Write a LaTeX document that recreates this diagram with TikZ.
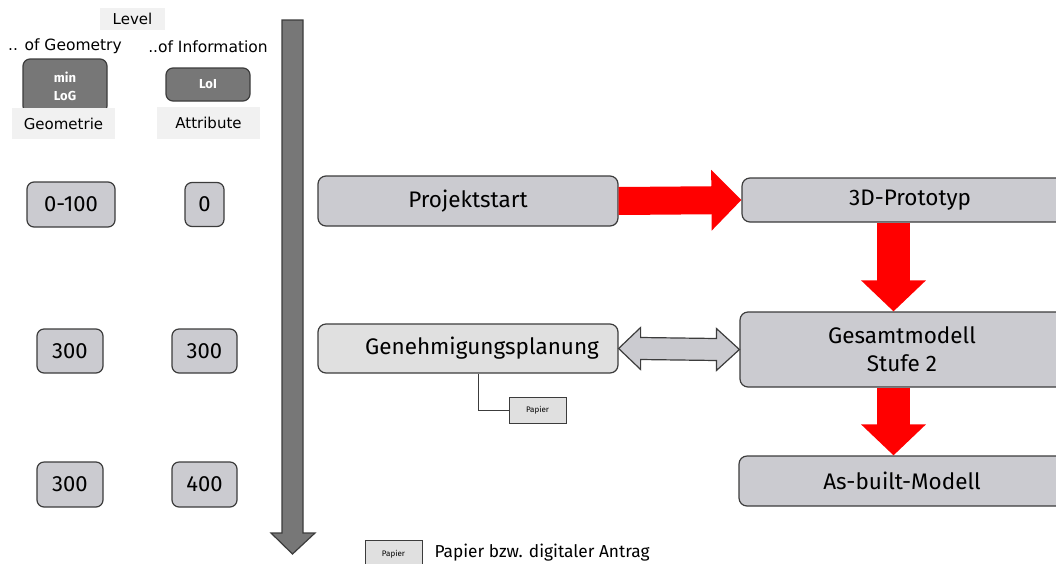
\documentclass[tikz,border=0pt]{standalone}
\usepackage{fontspec}
\setmainfont{Fira Sans}
\newfontfamily\uifont{DejaVu Sans}
\usetikzlibrary{arrows.meta,calc}
\definecolor{boxgray}{HTML}{CBCBD0}
\definecolor{lightbox}{HTML}{E0E0E0}
\definecolor{darkbox}{HTML}{777777}
\definecolor{tagfill}{HTML}{F1F1F1}
\definecolor{edge}{HTML}{3C3C3C}
\definecolor{flowred}{HTML}{FF0000}

\begin{document}
\begin{tikzpicture}[x=1pt,y=-1pt,
  stage/.style={draw=edge, fill=boxgray, rounded corners=8pt, line width=1.2pt,
    inner sep=0pt, font=\fontsize{22.5}{28}\selectfont, align=center},
  level/.style={draw=edge, fill=boxgray, rounded corners=7pt, line width=1.2pt,
    inner sep=0pt, font=\fontsize{22}{24}\selectfont},
  tag/.style={fill=tagfill, inner sep=0pt, font=\uifont\fontsize{15}{17}\selectfont},
  dark/.style={draw=edge, fill=darkbox, rounded corners=7pt, line width=1.2pt,
    inner sep=0pt, text=white, align=center, font=\bfseries\fontsize{13}{18}\selectfont},
  paper/.style={draw=edge, fill=lightbox, line width=1pt, inner sep=0pt,
    font=\fontsize{8}{9}\selectfont},
  flowh/.style={draw=flowred, line width=28pt, -{Triangle[length=30pt, width=59pt]}},
  flowv/.style={draw=flowred, line width=33pt, -{Triangle[length=31pt, width=63pt]}},
]
\clip (0,0) rectangle (1056,563);

% ---- left legend: levels of geometry and information ----
\node[tag, minimum width=65pt, minimum height=22pt] (lvl) at (132.5,19) {Level};
\node[font=\uifont\fontsize{15.5}{17}\selectfont] (log) at (65,46) {.. of Geometry};
\node[font=\uifont\fontsize{15.5}{17}\selectfont] (loi) at (208,47) {..of Information};
\node[dark, minimum width=84pt, minimum height=54pt] (minlog) at (65,86) {min\\LoG};
\node[tag, minimum width=103pt, minimum height=31pt] (geo) at (63.5,123.5) {Geometrie};
\node[dark, minimum width=84pt, minimum height=33pt] (loibox) at (208,84.5) {LoI};
\node[tag, minimum width=103pt, minimum height=32pt] (attr) at (208.5,123) {Attribute};

\node[level, minimum width=88pt, minimum height=45pt] (g1) at (71,204.5) {0-100};
\node[level, minimum width=39pt, minimum height=44pt] (i1) at (204.5,204.5) {0};
\node[level, minimum width=66pt, minimum height=44pt] (g2) at (70,351) {300};
\node[level, minimum width=65pt, minimum height=44pt] (i2) at (204.5,351) {300};
\node[level, minimum width=66pt, minimum height=45pt] (g3) at (70,484.5) {300};
\node[level, minimum width=65pt, minimum height=45pt] (i3) at (204.5,484.5) {400};

% ---- downward level axis ----
\filldraw[fill=darkbox, draw=edge, line width=1.2pt, line join=miter]
  (282,20) -- (303,20) -- (303,533) -- (315,533) -- (292.5,554)
  -- (271,533) -- (282,533) -- cycle;

% ---- process stages ----
\node[stage, minimum width=300pt, minimum height=50pt] (start) at (468,201) {Projektstart};
\node[stage, minimum width=336pt, minimum height=44pt] (proto) at (910,200) {3D-Prototyp};
\node[stage, minimum width=324pt, minimum height=75pt] (ges) at (902,349.5) {Gesamtmodell\\Stufe 2};
\node[stage, minimum width=326pt, minimum height=50pt] (asb) at (902,481) {As-built-Modell};
\node[stage, fill=lightbox, minimum width=300pt, minimum height=49pt,
  label={[font=\fontsize{22.5}{28}\selectfont, xshift=14pt]center:Genehmigungsplanung}]
  (gen) at (468,348.5) {};
\node[paper, minimum width=57pt, minimum height=26pt] (pap) at (537.5,410) {Papier};

% ---- flow between stages ----
\coordinate (axis) at (893.5,0);
\draw[flowh] (start.east) -- (proto.west);
\draw[flowv] (proto.south -| axis) -- (ges.north -| axis);
\draw[flowv] (ges.south -| axis) -- (asb.north -| axis);

% two-way exchange between permit planning and the overall model
\path (gen.east) coordinate (dl) (ges.west) coordinate (dr);
\filldraw[fill=boxgray, draw=edge, line width=1.2pt, line join=miter]
  (dl) -- ($(dl)+(22,-21)$) -- ($(dl)+(22,-11)$) -- ($(dr)+(-23,-11)$)
  -- ($(dr)+(-23,-21)$) -- (dr) -- ($(dr)+(-23,21)$) -- ($(dr)+(-23,11)$)
  -- ($(dl)+(22,11)$) -- ($(dl)+(22,21)$) -- cycle;

\draw[edge, line width=1pt] ([xshift=10pt]gen.south) |- (pap.west);

% ---- key ----
\node[paper, minimum width=57pt, minimum height=28pt] (keybox) at (393.5,554) {Papier};
\node[anchor=west, font=\fontsize{17.3}{20}\selectfont] (keytext) at (431,553)
  {Papier bzw. digitaler Antrag};
\end{tikzpicture}
\end{document}
